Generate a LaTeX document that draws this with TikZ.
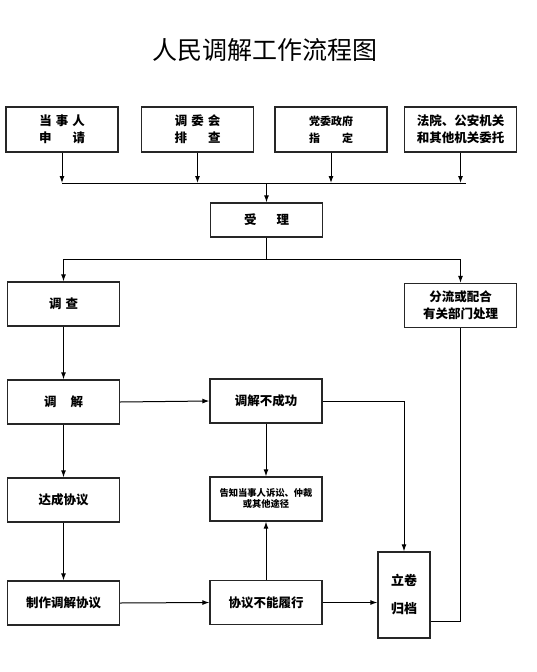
\documentclass[tikz,border=0pt]{standalone}
\usepackage{fontspec}
\setmainfont{Noto Sans CJK SC}
\usetikzlibrary{arrows.meta}
\tikzstyle{stepbox} = [rectangle,
minimum width=112pt,
minimum height=44pt,
align=center,
draw=black!85,
line width=1.3pt,
font=\bfseries\fontsize{12.5}{17}\selectfont]
\tikzstyle{tallbox} = [stepbox,
minimum width=52pt,
minimum height=86pt,
font=\bfseries\fontsize{13}{28}\selectfont]
\tikzstyle{arrow} = [line width=1pt, -{Latex[length=7pt,width=5pt]}]
\tikzstyle{plainline} = [line width=1pt]

\begin{document}
\begin{tikzpicture}[x=1pt, y=-1pt, node distance=98pt]
\useasboundingbox (0,0) rectangle (537,672);

\node (title) at (265,50) {\fontsize{25}{25}\selectfont 人民调解工作流程图};

% sources
\node (t1) [stepbox, minimum height=45pt] at (62,129.5) {当\hspace{4pt}事\hspace{4pt}人\\申\hspace{21pt}请};
\node (t2) [stepbox, minimum height=45pt] at (197.5,129.5) {调\hspace{4pt}委\hspace{4pt}会\\排\hspace{21pt}查};
\node (t3) [stepbox, minimum height=45pt, font=\bfseries\fontsize{11}{17}\selectfont] at (331,129.5) {党委政府\\指\hspace{22pt}定};
\node (t4) [stepbox, minimum height=45pt] at (460.5,129.5) {法院、公安机关\\和其他机关委托};
\coordinate (busy) at (0,183);

\node (accept) [stepbox, minimum height=34pt] at (266.5,220) {受\hspace{20pt}理};
\node (survey) [stepbox] at (63.5,304) {调\hspace{4pt}查};
\node (divert) [stepbox] at (460.5,305.5) {分流或配合\\有关部门处理};
\node (mediate) [stepbox, below of=survey] {调\hspace{14pt}解};
\node (agree) [stepbox, below of=mediate] {达成协议};
\node (make) [stepbox, below of=agree, yshift=-5pt] {制作调解协议};
\node (fail) [stepbox] at (266,401) {调解不成功};
\node (inform) [stepbox, below of=fail, font=\bfseries\fontsize{9.3}{11}\selectfont] {告知当事人诉讼、仲裁\\或其他途径};
\node (breach) [stepbox] at (266,602.5) {协议不能履行};
\node (file) [tallbox] at (404,595) {立卷\\归档};

\draw [arrow] (t1) -- (t1 |- busy);
\draw [arrow] (t2) -- (t2 |- busy);
\draw [arrow] (t3) -- (t3 |- busy);
\draw [arrow] (t4) -- (t4 |- busy);
\draw [plainline] (t1 |- busy) -- ([xshift=5pt]t4.south |- busy);
\draw [arrow] (accept |- busy) -- (accept);
\draw [arrow] (accept.south) -- ++(0,22) -| (survey.north);
\draw [arrow] (accept.south) -- ++(0,22) -| (divert.north);
\draw [arrow] (survey) -- (mediate);
\draw [arrow] (mediate.east) -- (fail.west);
\draw [arrow] (mediate) -- (agree);
\draw [arrow] (agree) -- (make);
\draw [arrow] (fail) -- (inform);
\draw [arrow] (fail.east) -| (file.north);
\draw [arrow] (make.east) -- (breach.west);
\draw [arrow] (breach) -- (inform);
\draw [arrow] (breach.east) -- (breach.east -| file.west);
\draw [plainline] (divert.south) |- ([yshift=17pt]file.south east);
\end{tikzpicture}
\end{document}
